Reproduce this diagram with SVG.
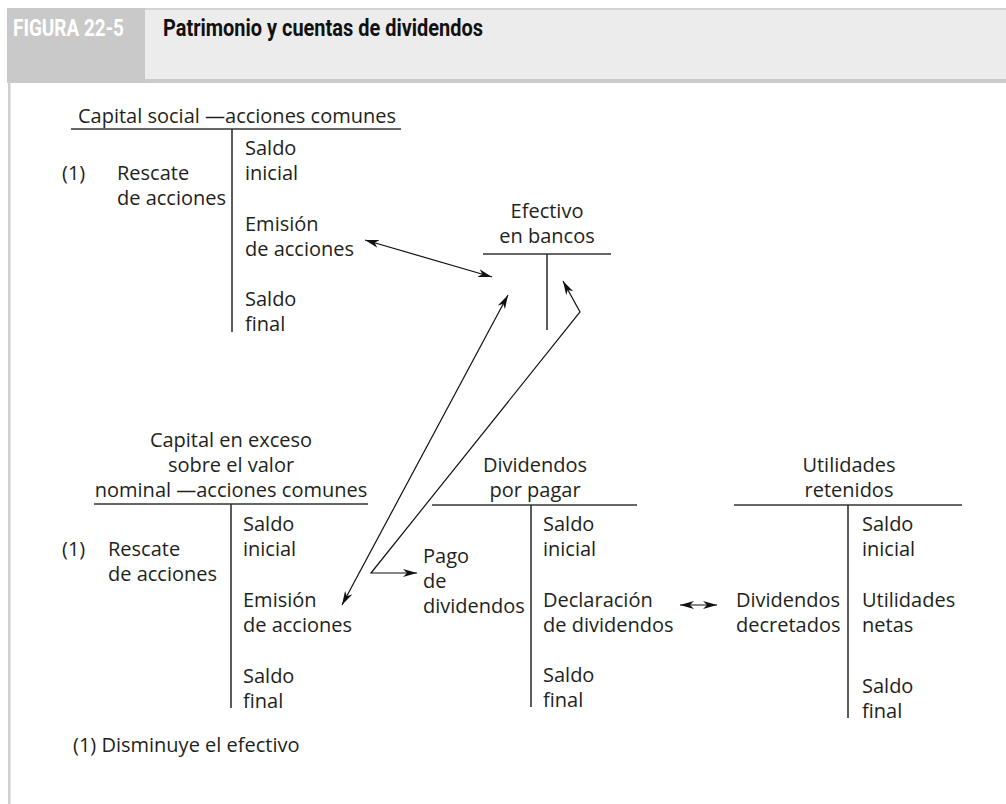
<svg xmlns="http://www.w3.org/2000/svg" width="1006" height="804" viewBox="0 0 1006 804">
<defs>
<marker id="ah" viewBox="0 0 14 8" refX="14" refY="4" markerWidth="14" markerHeight="8" markerUnits="userSpaceOnUse" orient="auto-start-reverse">
<path d="M0,0 L14,4 L0,8 L4,4 Z" fill="#111"/>
</marker>
</defs>
<style>
.t{font-family:"Open Sans","Noto Sans","Liberation Sans",sans-serif;font-size:20px;fill:#231f20}
.m{text-anchor:middle}
.ln{stroke:#333;stroke-width:1.6;fill:none}
.ar{stroke:#111;stroke-width:1.2;fill:none;marker-start:url(#ah);marker-end:url(#ah)}
.hd{font-family:Roboto,"Liberation Sans",sans-serif;font-weight:bold;font-size:24px}
</style>
<rect width="1006" height="804" fill="#fff"/>
<g id="header">
<rect x="7" y="8" width="999" height="2" fill="#d3d3d3"/>
<rect x="145" y="10" width="861" height="70" fill="#ececec"/>
<rect x="7" y="79" width="999" height="4" fill="#cbcbcb"/>
<rect x="7" y="8" width="138" height="74" fill="#c9c9c9"/>
<rect x="8" y="82" width="2.5" height="722" fill="#cfcfcf"/>
<text class="hd" x="13" y="36" fill="#fff" textLength="111" lengthAdjust="spacingAndGlyphs">FIGURA 22-5</text>
<text class="hd" x="163" y="36" fill="#111" textLength="320" lengthAdjust="spacingAndGlyphs">Patrimonio y cuentas de dividendos</text>
</g>
<g id="tCapitalSocial">
<text class="t m" x="237" y="123">Capital social —acciones comunes</text>
<line class="ln" x1="71" y1="129" x2="401" y2="129"/>
<line class="ln" x1="232" y1="129" x2="232" y2="332"/>
<text class="t" x="62" y="180">(1)</text>
<text class="t" x="117" y="180">Rescate<tspan x="117" dy="25">de acciones</tspan></text>
<text class="t" x="245" y="155">Saldo<tspan x="245" dy="25">inicial</tspan></text>
<text class="t" x="245" y="231">Emisión<tspan x="245" dy="25">de acciones</tspan></text>
<text class="t" x="245" y="306">Saldo<tspan x="245" dy="25">final</tspan></text>
</g>
<g id="tEfectivo">
<text class="t m" x="547" y="218">Efectivo<tspan x="547" dy="25">en bancos</tspan></text>
<line class="ln" x1="483" y1="254" x2="611" y2="254"/>
<line class="ln" x1="547" y1="254" x2="547" y2="330"/>
</g>
<g id="tCapitalExceso">
<text class="t m" x="231" y="447">Capital en exceso<tspan x="231" dy="25">sobre el valor</tspan><tspan x="231" dy="25">nominal —acciones comunes</tspan></text>
<line class="ln" x1="94" y1="504" x2="368" y2="504"/>
<line class="ln" x1="231" y1="504" x2="231" y2="708"/>
<text class="t" x="62" y="556">(1)</text>
<text class="t" x="108" y="556">Rescate<tspan x="108" dy="25">de acciones</tspan></text>
<text class="t" x="243" y="531">Saldo<tspan x="243" dy="25">inicial</tspan></text>
<text class="t" x="243" y="607">Emisión<tspan x="243" dy="25">de acciones</tspan></text>
<text class="t" x="243" y="683">Saldo<tspan x="243" dy="25">final</tspan></text>
</g>
<g id="tDividendos">
<text class="t m" x="535" y="472">Dividendos<tspan x="535" dy="25">por pagar</tspan></text>
<line class="ln" x1="432" y1="505" x2="637" y2="505"/>
<line class="ln" x1="531" y1="505" x2="531" y2="707"/>
<text class="t" x="423" y="563">Pago<tspan x="423" dy="25">de</tspan><tspan x="423" dy="25">dividendos</tspan></text>
<text class="t" x="543" y="531">Saldo<tspan x="543" dy="25">inicial</tspan></text>
<text class="t" x="543" y="607">Declaración<tspan x="543" dy="25">de dividendos</tspan></text>
<text class="t" x="543" y="682">Saldo<tspan x="543" dy="25">final</tspan></text>
</g>
<g id="tUtilidades">
<text class="t m" x="849" y="472">Utilidades<tspan x="849" dy="25">retenidos</tspan></text>
<line class="ln" x1="734" y1="505" x2="962" y2="505"/>
<line class="ln" x1="848" y1="505" x2="848" y2="718"/>
<text class="t" x="736" y="607">Dividendos<tspan x="736" dy="25">decretados</tspan></text>
<text class="t" x="862" y="531">Saldo<tspan x="862" dy="25">inicial</tspan></text>
<text class="t" x="862" y="607">Utilidades<tspan x="862" dy="25">netas</tspan></text>
<text class="t" x="862" y="693">Saldo<tspan x="862" dy="25">final</tspan></text>
</g>
<g id="footnote">
<text class="t" x="73" y="752">(1) Disminuye el efectivo</text>
</g>
<g id="connectors">
<line class="ar" x1="365" y1="240" x2="492" y2="277"/>
<line class="ar" x1="508" y1="295" x2="342" y2="605"/>
<polyline class="ar" points="417,573 371,573 580,312 563,281"/>
<line class="ar" x1="680" y1="605" x2="717" y2="605"/>
</g>
</svg>
